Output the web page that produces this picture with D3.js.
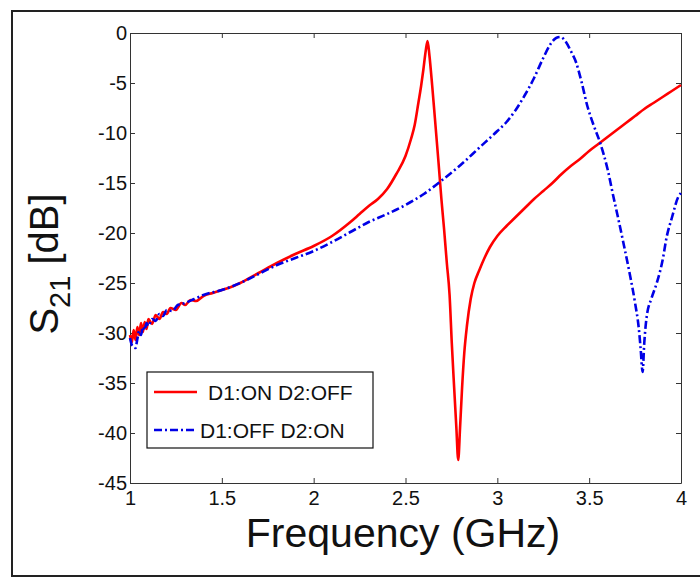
<!DOCTYPE html>
<html>
<head>
<meta charset="utf-8">
<script src="https://cdn.jsdelivr.net/npm/d3@7"></script>
<style>
  body { margin: 0; background: #fff; }
  svg { display: block; font-family: Arial, "Liberation Sans", sans-serif; }
</style>
</head>
<body>
<svg id="chart" width="700" height="578"></svg>
<script>
// D1:ON D2:OFF  (red, solid)
var redFreq = [1.00,1.01,1.02,1.03,1.04,1.05,1.06,1.07,1.08,1.09,1.10,1.12,1.14,1.16,1.18,1.20,1.22,1.25,1.28,1.30,1.33,1.36,1.40,
  1.45,1.50,1.55,1.60,1.70,1.80,1.90,2.00,2.10,2.20,2.25,2.30,2.35,2.40,2.45,2.50,2.53,2.55,2.57,2.585,2.597,2.61,2.62,
  2.63,2.645,2.66,2.68,2.695,2.71,2.725,2.74,2.752,2.765,2.777,2.787,2.797,2.808,2.82,2.835,2.855,2.875,2.90,2.93,2.96,
  3.00,3.05,3.10,3.15,3.20,3.25,3.30,3.35,3.40,3.45,3.50,3.55,3.60,3.65,3.70,3.75,3.80,3.85,3.90,3.95,4.00]
var redDb = [-30.2,-30.9,-29.7,-30.7,-29.4,-30.2,-29.0,-29.9,-28.9,-29.6,-28.6,-29.1,-28.2,-28.6,-27.9,-28.1,-27.5,-27.7,-27.0,-27.2,-26.7,-26.8,-26.3,
  -26.0,-25.7,-25.4,-25.0,-24.0,-23.0,-22.1,-21.3,-20.3,-18.9,-18.1,-17.3,-16.6,-15.6,-14.1,-12.3,-10.6,-9.2,-7.0,-5.3,-3.7,-1.8,-0.8,
  -2.2,-5.2,-8.5,-13.0,-16.5,-19.6,-23.0,-26.2,-31.0,-35.5,-39.5,-42.7,-39.5,-35.5,-32.0,-29.2,-26.6,-25.0,-23.8,-22.5,-21.4,
  -20.3,-19.3,-18.4,-17.5,-16.6,-15.8,-15.0,-14.1,-13.3,-12.6,-11.8,-11.1,-10.4,-9.7,-9.0,-8.3,-7.6,-7.0,-6.4,-5.8,-5.2]

// D1:OFF D2:ON  (blue, dash-dot)
var blueFreq = [1.00,1.01,1.02,1.03,1.04,1.05,1.06,1.07,1.08,1.09,1.10,1.12,1.14,1.16,1.18,1.20,1.23,1.26,1.30,1.35,1.40,
  1.50,1.60,1.70,1.80,1.90,2.00,2.10,2.20,2.30,2.40,2.50,2.60,2.70,2.80,2.90,3.00,3.05,3.10,3.15,3.20,3.25,3.29,3.32,3.345,
  3.37,3.40,3.43,3.46,3.49,3.52,3.56,3.60,3.63,3.66,3.69,3.72,3.75,3.77,3.78,3.791,3.80,3.813,3.84,3.868,3.90,3.922,3.95,3.985,4.00]
var blueDb = [-30.5,-31.2,-31.4,-31.5,-30.6,-29.8,-30.2,-29.4,-29.7,-29.0,-29.3,-28.6,-28.8,-28.1,-28.3,-27.7,-27.8,-27.2,-27.0,-26.6,-26.2,
  -25.7,-25.0,-24.1,-23.2,-22.5,-21.8,-20.9,-19.9,-18.9,-18.1,-17.2,-16.1,-14.7,-13.2,-11.5,-9.8,-8.9,-7.7,-6.2,-4.5,-2.5,-1.1,-0.5,-0.4,
  -0.8,-1.8,-3.0,-5.0,-7.3,-9.0,-11.0,-13.6,-16.2,-18.7,-21.3,-24.0,-27.0,-29.5,-31.5,-33.9,-31.0,-28.4,-26.5,-25.0,-22.7,-20.4,-18.5,-16.4,-16.0]

var seriesNames = ["D1:ON D2:OFF", "D1:OFF D2:ON"]
var xTicks = [1, 1.5, 2, 2.5, 3, 3.5, 4]
var yTicks = [0, -5, -10, -15, -20, -25, -30, -35, -40, -45]

var svg = d3.select("#chart")
var margin = {left:130, top:33, right:19, bottom:95}
var width = 700 - margin.left - margin.right
var height = 578 - margin.top - margin.bottom

var x = d3.scaleLinear().domain([1, 4]).range([margin.left, margin.left + width])
var y = d3.scaleLinear().domain([-45, 0]).range([margin.top + height, margin.top])

// plain hyphen for negatives, like matlab
var plain = function(d) { return d.toString() }

// outer figure frame
svg.append("rect")
  .attr("x", 12).attr("y", 11)
  .attr("width", 700).attr("height", 565)
  .attr("fill", "none").attr("stroke", "#222").attr("stroke-width", 2)

function styleAxis(g) {
  g.select(".domain").attr("stroke", "#333")
  g.selectAll(".tick line").attr("stroke", "#333")
  g.selectAll("text").attr("fill", "#111").attr("font-size", "20px")
}

svg.append("g")
  .attr("transform", "translate(0," + (margin.top + height) + ")")
  .call(d3.axisBottom(x).tickValues(xTicks).tickFormat(plain).tickSizeInner(-5).tickSizeOuter(0).tickPadding(8))
  .call(styleAxis)

svg.append("g")
  .attr("transform", "translate(0," + margin.top + ")")
  .call(d3.axisTop(x).tickValues(xTicks).tickFormat("").tickSizeInner(-5).tickSizeOuter(0))
  .call(styleAxis)

svg.append("g")
  .attr("transform", "translate(" + margin.left + ",0)")
  .call(d3.axisLeft(y).tickValues(yTicks).tickFormat(plain).tickSizeInner(-5).tickSizeOuter(0).tickPadding(3))
  .call(styleAxis)

svg.append("g")
  .attr("transform", "translate(" + (margin.left + width) + ",0)")
  .call(d3.axisRight(y).tickValues(yTicks).tickFormat("").tickSizeInner(-5).tickSizeOuter(0))
  .call(styleAxis)

var line = d3.line()
  .x(function(d) { return x(d[0]) })
  .y(function(d) { return y(d[1]) })
  .curve(d3.curveMonotoneX)

svg.append("path")
  .datum(redFreq.map(function(f, i) { return [f, redDb[i]] }))
  .attr("d", line)
  .attr("fill", "none").attr("stroke", "#f00").attr("stroke-width", 2.6)
  .attr("stroke-linejoin", "round")

svg.append("path")
  .datum(blueFreq.map(function(f, i) { return [f, blueDb[i]] }))
  .attr("d", line)
  .attr("fill", "none").attr("stroke", "#0000e6").attr("stroke-width", 2.6)
  .attr("stroke-dasharray", "8,3,2,3")

// axis titles
svg.append("text")
  .attr("x", 403).attr("y", 547)
  .attr("text-anchor", "middle")
  .attr("font-size", "41px").attr("fill", "#111")
  .text("Frequency (GHz)")

var yTitle = svg.append("text")
  .attr("transform", "translate(58,264) rotate(-90)")
  .attr("text-anchor", "middle")
  .attr("font-size", "40px").attr("fill", "#111")
yTitle.append("tspan").text("S")
yTitle.append("tspan").attr("dy", 12).attr("font-size", "29px").text("21")
yTitle.append("tspan").attr("dy", -12).text(" [dB]")

// legend
var legend = svg.append("g")
legend.append("rect")
  .attr("x", 147).attr("y", 372).attr("width", 226).attr("height", 76)
  .attr("fill", "#fff").attr("stroke", "#111").attr("stroke-width", 1.2)

legend.append("line")
  .attr("x1", 154).attr("x2", 197).attr("y1", 392).attr("y2", 392)
  .attr("stroke", "#f00").attr("stroke-width", 2.6)
legend.append("text")
  .attr("x", 208).attr("y", 400)
  .attr("font-size", "21px").attr("fill", "#111")
  .text(seriesNames[0])

legend.append("line")
  .attr("x1", 154).attr("x2", 197).attr("y1", 430).attr("y2", 430)
  .attr("stroke", "#0000e6").attr("stroke-width", 2.6)
  .attr("stroke-dasharray", "8,3,2,3")
legend.append("text")
  .attr("x", 200).attr("y", 438)
  .attr("font-size", "21px").attr("fill", "#111")
  .text(seriesNames[1])
</script>
</body>
</html>
